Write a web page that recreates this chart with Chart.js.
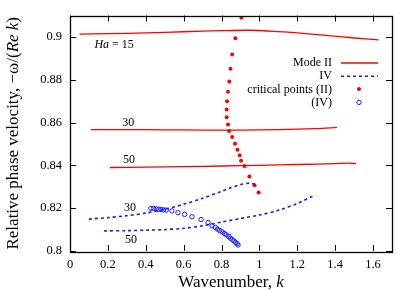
<!DOCTYPE html>
<html>
<head>
<meta charset="utf-8">
<script src="https://cdn.jsdelivr.net/npm/chart.js@4.4.0/dist/chart.umd.min.js"></script>
<style>
html,body{margin:0;padding:0;background:#fff;}
#wrap{width:415px;height:291px;}
</style>
</head>
<body>
<div id="wrap"><canvas id="c" width="415" height="291"></canvas></div>
<script>
// ---- data ----
const xTicks = [0, 0.2, 0.4, 0.6, 0.8, 1, 1.2, 1.4, 1.6];
const yTicks = [0.8, 0.82, 0.84, 0.86, 0.88, 0.9];
const xTickLabels = ["0", "0.2", "0.4", "0.6", "0.8", "1", "1.2", "1.4", "1.6"];
const yTickLabels = ["0.8", "0.82", "0.84", "0.86", "0.88", "0.9"];

const modeII_Ha15_k = [0.05, 0.2, 0.4, 0.6, 0.8, 0.95, 1.1, 1.2, 1.35, 1.5, 1.63];
const modeII_Ha15_v = [0.9013, 0.9015, 0.9019, 0.9024, 0.9029, 0.9031, 0.9025, 0.9019, 0.9007, 0.8995, 0.8986];
const modeII_Ha30_k = [0.11, 0.3, 0.5, 0.7, 0.9, 1.1, 1.3, 1.41];
const modeII_Ha30_v = [0.8567, 0.8567, 0.8566, 0.8565, 0.8565, 0.8567, 0.8572, 0.8577];
const modeII_Ha50_k = [0.21, 0.4, 0.6, 0.8, 1.0, 1.2, 1.4, 1.47, 1.51];
const modeII_Ha50_v = [0.8390, 0.8392, 0.8394, 0.8397, 0.8400, 0.8404, 0.8408, 0.8410, 0.8408];

const modeIV_Ha30_k = [0.1, 0.2, 0.3, 0.4, 0.5, 0.6, 0.7, 0.8, 0.85, 0.9, 0.95, 0.98];
const modeIV_Ha30_v = [0.8149, 0.8156, 0.8165, 0.8177, 0.8195, 0.8218, 0.8246, 0.8279, 0.8296, 0.8310, 0.8317, 0.8311];
const modeIV_Ha50_k = [0.18, 0.3, 0.4, 0.5, 0.6, 0.7, 0.8, 0.9, 1.0, 1.1, 1.2, 1.28];
const modeIV_Ha50_v = [0.8094, 0.8095, 0.8097, 0.8100, 0.8106, 0.8118, 0.8135, 0.8152, 0.8168, 0.8190, 0.8222, 0.8256];

const critII_k = [0.905, 0.873, 0.856, 0.847, 0.841, 0.834, 0.829, 0.827, 0.827, 0.834, 0.840, 0.856, 0.871, 0.884, 0.896, 0.903, 0.921, 0.947, 0.974, 0.996];
const critII_v = [0.9090, 0.8994, 0.8918, 0.8851, 0.8792, 0.8744, 0.8699, 0.8661, 0.8625, 0.8591, 0.8560, 0.8532, 0.8501, 0.8473, 0.8447, 0.8422, 0.8397, 0.8348, 0.8307, 0.8273];

const critIV_k = [0.427, 0.441, 0.455, 0.469, 0.481, 0.494, 0.508, 0.538, 0.570, 0.605, 0.644, 0.692, 0.729, 0.750, 0.767, 0.779, 0.790, 0.803, 0.815, 0.825, 0.838, 0.847, 0.857, 0.866, 0.875, 0.882, 0.887];
const critIV_v = [0.8199, 0.8199, 0.8197, 0.8195, 0.8194, 0.8192, 0.8191, 0.8187, 0.8179, 0.8171, 0.8160, 0.8147, 0.8133, 0.8118, 0.8110, 0.8102, 0.8096, 0.8090, 0.8082, 0.8076, 0.8068, 0.8060, 0.8053, 0.8047, 0.8040, 0.8034, 0.8028];

const curveLabels = [
  {k: 0.233, v: 0.8963, ha: true, text: "15"},
  {k: 0.307, v: 0.8600, text: "30"},
  {k: 0.312, v: 0.8428, text: "50"},
  {k: 0.317, v: 0.8200, text: "30"},
  {k: 0.322, v: 0.8051, text: "50"}
];
const legendLabels = ["Mode II", "IV", "critical points (II)", "(IV)"];

function pts(k, v) { return k.map((x, i) => ({x: x, y: v[i]})); }

const SERIF = '"Liberation Serif", "DejaVu Serif", serif';
const RED = '#ff0000';
const BLUE = '#1a1aff';

const overlay = {
  id: 'overlay',
  afterDraw(chart) {
    const ctx = chart.ctx;
    const a = chart.chartArea;
    const xs = chart.scales.x, ys = chart.scales.y;
    ctx.save();
    // inward tick marks on all four sides
    ctx.strokeStyle = '#000';
    ctx.lineWidth = 1;
    const TL = 6;
    ctx.beginPath();
    xTicks.forEach(v => {
      const px = Math.round(xs.getPixelForValue(v)) + 0.5;
      ctx.moveTo(px, a.bottom); ctx.lineTo(px, a.bottom - TL);
      ctx.moveTo(px, a.top); ctx.lineTo(px, a.top + TL);
    });
    yTicks.forEach(v => {
      const py = Math.round(ys.getPixelForValue(v)) + 0.5;
      ctx.moveTo(a.left, py); ctx.lineTo(a.left + TL, py);
      ctx.moveTo(a.right, py); ctx.lineTo(a.right - TL, py);
    });
    ctx.stroke();
    // frame
    ctx.lineWidth = 1.3;
    ctx.strokeRect(Math.round(a.left) + 0.5, Math.round(a.top) + 0.5,
                   Math.round(a.right - a.left), Math.round(a.bottom - a.top));

    // curve labels
    ctx.fillStyle = '#000';
    ctx.textBaseline = 'middle';
    curveLabels.forEach(l => {
      const px = xs.getPixelForValue(l.k), py = ys.getPixelForValue(l.v);
      if (l.ha) {
        ctx.font = 'italic 12px ' + SERIF;
        const w1 = ctx.measureText('Ha').width;
        ctx.font = '12px ' + SERIF;
        const w2 = ctx.measureText(' = ' + l.text).width;
        let x0 = px - (w1 + w2) / 2;
        ctx.textAlign = 'left';
        ctx.font = 'italic 12px ' + SERIF;
        ctx.fillText('Ha', x0, py);
        ctx.font = '12px ' + SERIF;
        ctx.fillText(' = ' + l.text, x0 + w1, py);
      } else {
        ctx.font = '12px ' + SERIF;
        ctx.textAlign = 'center';
        ctx.fillText(l.text, px, py);
      }
    });

    // legend
    const lx = 332, ly0 = 63, dy = 13.3;
    ctx.font = '12px ' + SERIF;
    ctx.textAlign = 'right';
    legendLabels.forEach((t, i) => ctx.fillText(t, lx, ly0 + i * dy));
    // samples
    ctx.lineWidth = 1.3;
    ctx.strokeStyle = RED;
    ctx.setLineDash([]);
    ctx.beginPath(); ctx.moveTo(341, ly0); ctx.lineTo(378, ly0); ctx.stroke();
    ctx.strokeStyle = BLUE;
    ctx.lineWidth = 1.6;
    ctx.setLineDash([3, 3]);
    ctx.beginPath(); ctx.moveTo(341, ly0 + dy); ctx.lineTo(378, ly0 + dy); ctx.stroke();
    ctx.setLineDash([]);
    ctx.fillStyle = RED;
    ctx.beginPath(); ctx.arc(359, ly0 + 2 * dy - 0.5, 2, 0, Math.PI * 2); ctx.fill();
    ctx.strokeStyle = BLUE;
    ctx.lineWidth = 1;
    ctx.beginPath(); ctx.arc(359, ly0 + 3 * dy - 0.5, 2.2, 0, Math.PI * 2); ctx.stroke();

    // axis titles
    ctx.fillStyle = '#000';
    ctx.textBaseline = 'alphabetic';
    ctx.textAlign = 'left';
    const cx = (a.left + a.right) / 2;
    const xParts = [['Wavenumber, ', ''], ['k', 'italic ']];
    drawParts(ctx, xParts, cx, 287, 17);
    ctx.save();
    ctx.translate(18, (a.top + a.bottom) / 2);
    ctx.rotate(-Math.PI / 2);
    const yParts = [['Relative phase velocity, \u2212\u03c9/(', ''], ['Re k', 'italic '], [')', '']];
    drawParts(ctx, yParts, 0, 0, 17);
    ctx.restore();
    ctx.restore();
  }
};

function drawParts(ctx, parts, cx, y, size) {
  let total = 0;
  const ws = parts.map(p => { ctx.font = p[1] + size + 'px ' + SERIF; const w = ctx.measureText(p[0]).width; total += w; return w; });
  let x = cx - total / 2;
  parts.forEach((p, i) => { ctx.font = p[1] + size + 'px ' + SERIF; ctx.fillText(p[0], x, y); x += ws[i]; });
}

const lineDs = (label, k, v, color, dash, width) => ({
  label: label, data: pts(k, v), showLine: true, borderColor: color, backgroundColor: color,
  borderWidth: width, borderDash: dash, pointRadius: 0, tension: 0.3, fill: false
});

new Chart(document.getElementById('c'), {
  type: 'scatter',
  data: {
    datasets: [
      lineDs('Mode II, Ha=15', modeII_Ha15_k, modeII_Ha15_v, RED, [], 1.3),
      lineDs('Mode II, Ha=30', modeII_Ha30_k, modeII_Ha30_v, RED, [], 1.3),
      lineDs('Mode II, Ha=50', modeII_Ha50_k, modeII_Ha50_v, RED, [], 1.3),
      lineDs('IV, Ha=30', modeIV_Ha30_k, modeIV_Ha30_v, BLUE, [3, 3], 1.6),
      lineDs('IV, Ha=50', modeIV_Ha50_k, modeIV_Ha50_v, BLUE, [3, 3], 1.6),
      {label: 'critical points (II)', data: pts(critII_k, critII_v), showLine: false,
       pointRadius: 2, pointBackgroundColor: RED, pointBorderWidth: 0, pointBorderColor: RED},
      {label: 'critical points (IV)', data: pts(critIV_k, critIV_v), showLine: false,
       pointRadius: 2.2, pointBackgroundColor: 'rgba(0,0,0,0)', pointBorderWidth: 1, pointBorderColor: BLUE}
    ]
  },
  options: {
    responsive: false,
    animation: false,
    devicePixelRatio: 1,
    layout: {padding: {top: 15, right: 23, left: 0, bottom: 0}},
    plugins: {legend: {display: false}, tooltip: {enabled: false}},
    scales: {
      x: {
        type: 'linear', min: 0, max: 1.7,
        afterBuildTicks: s => { s.ticks = xTicks.map(v => ({value: v})); },
        afterFit: s => { s.height = 40; },
        ticks: {
          callback: (v) => { const i = xTicks.findIndex(t => Math.abs(t - v) < 1e-9); return i >= 0 ? xTickLabels[i] : ''; },
          font: {family: SERIF, size: 12.5}, color: '#000', padding: 6, maxRotation: 0, autoSkip: false
        },
        grid: {display: false, drawTicks: false},
        border: {display: false}
      },
      y: {
        type: 'linear', min: 0.8, max: 0.91,
        afterBuildTicks: s => { s.ticks = yTicks.map(v => ({value: v})); },
        afterFit: s => { s.width = 70; },
        ticks: {
          callback: (v) => { const i = yTicks.findIndex(t => Math.abs(t - v) < 1e-9); return i >= 0 ? yTickLabels[i] : ''; },
          font: {family: SERIF, size: 12.5}, color: '#000', padding: 8, autoSkip: false
        },
        grid: {display: false, drawTicks: false},
        border: {display: false}
      }
    }
  },
  plugins: [overlay]
});
</script>
</body>
</html>
